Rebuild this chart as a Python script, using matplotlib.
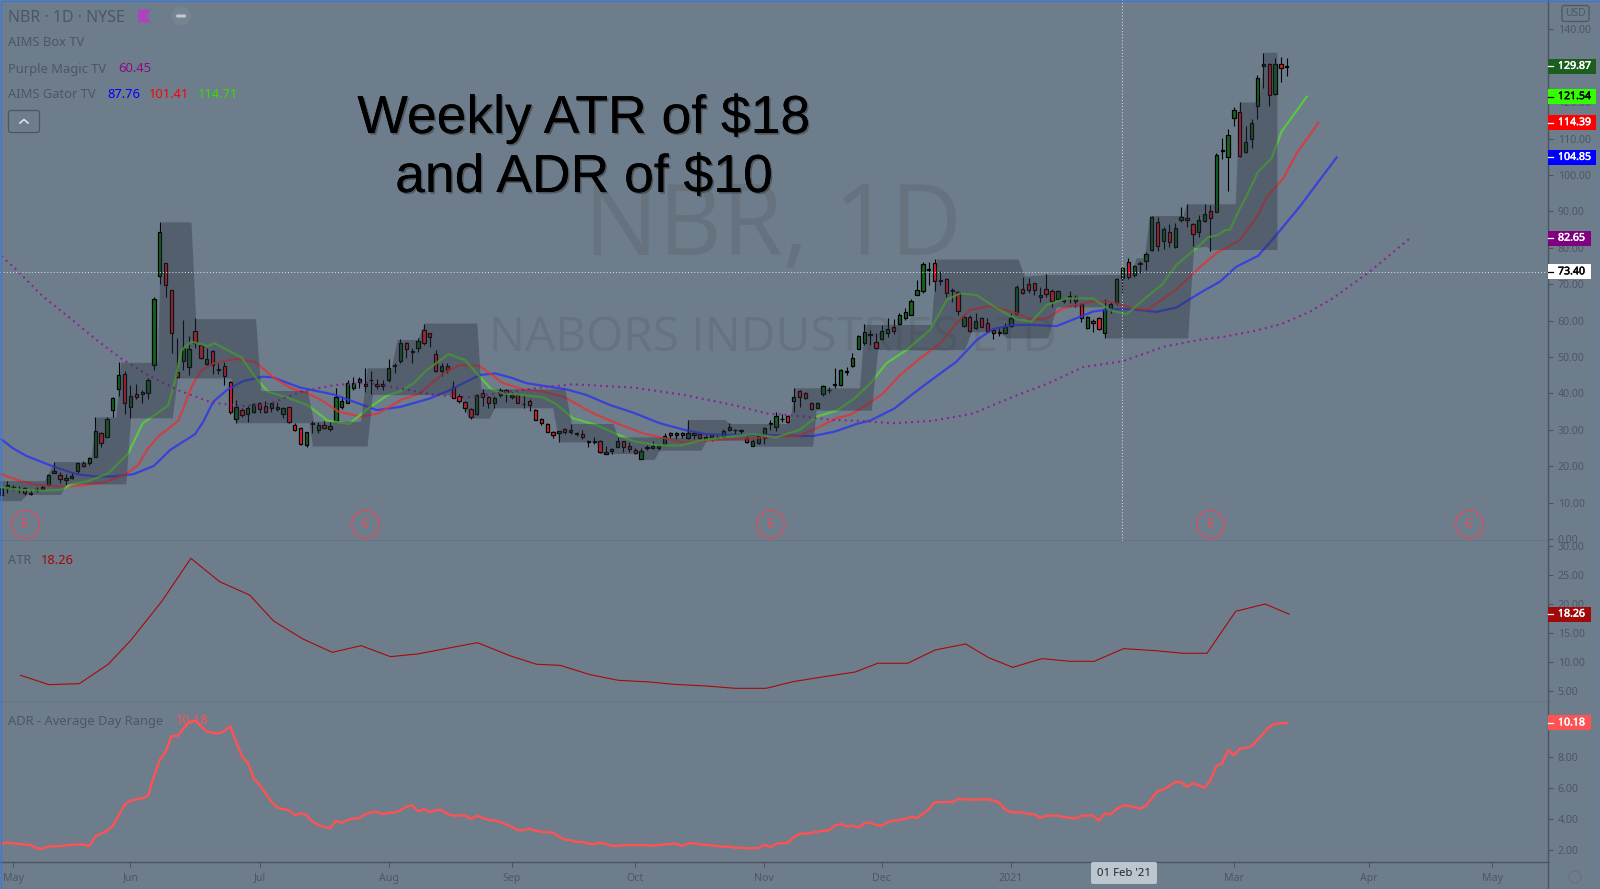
"""NBR daily chart with gator lines, weekly box, ATR and ADR panels."""
import matplotlib as mpl
import matplotlib.pyplot as plt
import matplotlib.patheffects as pe
from matplotlib.patches import Circle, FancyBboxPatch, Polygon, Rectangle
from matplotlib.ticker import FixedLocator, FuncFormatter

mpl.rcParams['font.family'] = ['Noto Sans', 'DejaVu Sans']

# Daily candles, one value per trading day.
opens = [12.1, 13.9, 14.0, 13.6, 13.9, 12.4, 13.4, 13.7, 14.7, 18.2,
         17.5, 16.1, 16.7, 18.8, 20.8, 20.8, 22.6, 29.0, 28.1, 35.4,
         41.3, 45.2, 36.4, 39.8, 39.7, 40.0, 47.9, 72.3, 75.7, 68.3,
         46.0, 49.0, 47.3, 57.2, 53.3, 48.2, 51.7, 46.4, 47.6, 43.1,
         32.9, 35.4, 34.4, 35.0, 37.5, 36.5, 36.0, 35.7, 34.3, 36.2,
         31.4, 30.5, 25.8, 31.7, 30.0, 31.2, 30.3, 32.5, 36.4, 37.5,
         41.6, 43.0, 42.6, 43.6, 42.5, 42.5, 43.6, 47.6, 49.0, 53.8,
         51.3, 52.5, 57.5, 56.5, 50.7, 46.2, 47.5, 41.8, 39.4, 37.7,
         35.6, 34.3, 40.1, 38.9, 37.5, 39.5, 40.8, 39.1, 39.5, 37.0,
         37.9, 35.4, 33.1, 31.7, 29.5, 29.1, 30.1, 29.5, 28.9, 28.9,
         26.7, 26.7, 26.8, 23.4, 24.3, 25.4, 26.8, 25.5, 24.5, 22.1,
         25.1, 25.1, 25.1, 26.2, 29.2, 28.6, 29.2, 27.8, 28.5, 28.9,
         27.2, 27.7, 27.7, 27.9, 30.0, 29.9, 29.7, 27.7, 25.6, 26.5,
         27.8, 31.5, 30.7, 33.0, 33.7, 38.0, 40.6, 40.0, 37.5, 36.1,
         39.7, 40.8, 42.3, 42.3, 45.8, 47.5, 52.3, 53.8, 56.0, 54.2,
         54.9, 56.5, 58.2, 59.2, 60.8, 61.6, 67.1, 68.0, 73.8, 75.9,
         70.9, 71.3, 68.1, 67.8, 58.6, 61.0, 57.9, 60.6, 59.4, 57.4,
         56.6, 56.5, 58.5, 61.7, 68.6, 70.0, 70.2, 66.6, 68.6, 68.1,
         66.0, 65.8, 66.1, 66.6, 64.5, 58.1, 59.8, 60.6, 56.5, 63.3,
         64.7, 71.8, 76.1, 72.6, 75.6, 76.3, 79.4, 87.0, 82.0, 84.3,
         80.3, 87.6, 88.1, 86.5, 84.3, 87.3, 90.0, 89.8, 106.5, 105.0,
         115.7, 117.2, 106.2, 109.8, 118.9, 130.0, 130.4, 122.3, 130.4, 129.6]
highs = [14.4, 15.8, 14.8, 14.6, 14.4, 13.6, 14.2, 14.8, 17.9, 21.1,
         18.5, 17.9, 18.4, 21.1, 21.5, 22.6, 33.4, 29.5, 33.4, 39.1,
         48.5, 46.2, 42.3, 42.5, 40.9, 44.1, 66.6, 87.0, 75.9, 68.4,
         55.1, 60.2, 55.8, 60.6, 53.6, 52.4, 51.9, 48.4, 48.5, 43.4,
         38.2, 35.9, 36.5, 37.3, 37.7, 38.0, 37.5, 37.7, 36.4, 36.4,
         31.8, 30.9, 29.5, 32.5, 32.2, 32.5, 32.2, 41.4, 39.3, 43.7,
         44.6, 44.6, 46.9, 46.2, 44.0, 43.7, 49.4, 48.3, 54.9, 54.2,
         52.4, 55.1, 59.2, 56.7, 51.9, 48.3, 48.3, 43.4, 39.8, 38.0,
         35.9, 39.7, 41.2, 39.3, 39.3, 41.4, 41.1, 40.5, 40.0, 39.6,
         38.4, 35.6, 33.3, 31.8, 29.7, 29.8, 30.4, 31.5, 29.5, 29.9,
         27.2, 27.9, 27.2, 25.5, 25.1, 28.1, 27.0, 26.6, 24.9, 24.9,
         25.8, 26.9, 26.1, 29.0, 29.5, 29.5, 29.5, 32.7, 29.5, 29.2,
         28.6, 28.8, 28.6, 30.2, 31.8, 30.3, 30.3, 28.4, 27.5, 28.7,
         30.7, 32.7, 35.0, 34.3, 34.1, 41.4, 40.9, 40.5, 37.7, 37.7,
         42.3, 41.7, 47.1, 46.6, 47.3, 51.0, 56.0, 59.0, 57.4, 56.5,
         58.8, 60.6, 60.4, 62.0, 63.4, 65.8, 71.2, 76.2, 76.0, 76.8,
         73.7, 71.6, 68.9, 68.0, 61.5, 61.5, 62.0, 60.9, 60.8, 57.9,
         57.9, 59.4, 62.0, 69.8, 71.9, 71.6, 70.4, 69.3, 72.8, 68.6,
         68.4, 66.3, 68.0, 67.0, 64.7, 61.3, 60.4, 61.1, 65.8, 65.2,
         71.8, 74.6, 77.3, 75.3, 76.5, 78.9, 88.7, 88.6, 85.6, 86.5,
         86.7, 91.1, 91.9, 86.9, 89.0, 92.0, 91.8, 106.0, 110.2, 112.6,
         118.8, 120.0, 113.5, 115.3, 127.4, 133.6, 130.7, 132.1, 132.3, 132.1]
lows = [11.8, 12.5, 13.5, 12.7, 12.1, 12.1, 13.0, 13.5, 14.6, 18.0,
        15.5, 14.8, 16.4, 18.0, 19.7, 20.3, 22.6, 25.4, 27.9, 33.6,
        39.3, 34.3, 33.2, 38.5, 37.5, 38.4, 46.4, 70.1, 66.6, 51.0,
        44.1, 46.4, 45.1, 52.6, 49.4, 47.8, 45.3, 45.3, 42.3, 34.3,
        31.8, 33.6, 32.2, 34.7, 34.5, 34.5, 35.0, 35.3, 33.2, 32.0,
        29.8, 25.8, 25.4, 29.0, 29.0, 30.1, 29.6, 32.2, 35.6, 37.5,
        40.9, 41.4, 40.4, 39.7, 41.3, 40.8, 43.2, 45.5, 48.3, 49.6,
        48.3, 51.5, 53.3, 52.8, 46.0, 44.9, 45.7, 38.6, 37.5, 35.0,
        33.1, 34.1, 36.5, 36.0, 35.9, 39.1, 37.7, 38.4, 37.3, 36.1,
        35.3, 32.7, 31.3, 29.3, 27.8, 26.6, 28.8, 28.8, 28.4, 27.4,
        25.4, 26.1, 23.5, 23.3, 23.4, 25.2, 24.0, 24.0, 23.3, 21.9,
        24.5, 24.7, 24.5, 26.0, 27.7, 27.4, 27.7, 27.4, 27.4, 27.6,
        26.9, 27.0, 27.4, 27.7, 29.7, 28.8, 28.8, 26.3, 25.5, 26.1,
        26.0, 29.9, 29.8, 32.2, 32.0, 35.0, 36.4, 38.4, 35.4, 35.9,
        39.4, 40.0, 41.4, 41.9, 45.1, 47.3, 52.1, 53.3, 53.3, 52.1,
        54.7, 55.6, 56.3, 58.8, 60.2, 61.5, 66.9, 67.7, 69.8, 68.2,
        69.8, 66.6, 65.2, 61.5, 58.3, 57.0, 57.6, 58.2, 56.9, 54.9,
        55.8, 56.3, 58.2, 61.5, 67.3, 67.5, 67.0, 65.2, 66.6, 63.6,
        65.7, 64.7, 64.9, 63.8, 59.7, 57.8, 57.0, 57.4, 55.1, 62.0,
        64.3, 67.5, 71.3, 71.9, 73.0, 73.9, 79.1, 79.2, 79.6, 80.1,
        80.0, 87.2, 85.8, 80.6, 82.9, 87.1, 79.2, 89.7, 104.5, 95.7,
        113.5, 104.9, 106.0, 107.3, 115.3, 124.0, 119.0, 122.0, 125.5, 127.2]
closes = [13.9, 14.8, 14.4, 13.8, 12.7, 12.7, 13.6, 14.3, 17.6, 18.7,
          16.6, 16.7, 17.2, 20.8, 20.1, 22.3, 29.6, 26.5, 33.0, 38.7,
          45.1, 37.3, 39.2, 39.1, 40.4, 43.7, 65.8, 84.3, 69.8, 56.5,
          44.6, 52.4, 52.1, 53.8, 49.6, 49.4, 47.8, 46.7, 44.9, 34.8,
          36.4, 34.1, 36.1, 37.1, 35.6, 34.9, 37.4, 36.2, 35.9, 32.1,
          30.0, 26.0, 29.3, 32.0, 31.2, 30.5, 31.1, 39.1, 38.0, 42.9,
          42.8, 44.0, 41.9, 43.8, 42.0, 42.0, 46.9, 47.8, 53.9, 52.1,
          51.7, 54.4, 53.9, 55.4, 46.2, 47.4, 46.5, 38.8, 38.0, 36.1,
          33.6, 39.6, 38.9, 37.3, 38.8, 41.0, 40.2, 39.5, 37.5, 37.2,
          36.9, 32.8, 31.8, 29.5, 28.5, 29.6, 29.4, 29.9, 29.2, 28.1,
          26.9, 27.0, 23.8, 23.8, 24.7, 26.8, 25.4, 24.6, 23.5, 24.2,
          25.4, 25.6, 25.6, 28.4, 28.5, 29.1, 28.5, 29.1, 29.1, 27.8,
          28.1, 28.6, 28.1, 29.7, 30.8, 30.0, 29.9, 26.6, 26.9, 28.4,
          30.4, 31.9, 33.8, 33.1, 32.2, 39.0, 39.1, 38.6, 35.6, 37.5,
          41.9, 41.0, 42.7, 46.3, 46.1, 49.7, 55.7, 56.9, 56.2, 52.6,
          57.1, 57.6, 57.2, 61.5, 62.3, 65.5, 68.4, 75.5, 74.3, 70.8,
          71.2, 67.5, 68.4, 62.6, 60.9, 57.2, 60.0, 58.3, 57.1, 56.5,
          56.8, 58.3, 60.8, 69.1, 67.7, 68.3, 68.5, 66.9, 67.3, 65.5,
          68.0, 65.4, 66.7, 65.5, 60.8, 60.9, 59.3, 57.6, 63.1, 64.6,
          71.4, 74.4, 72.1, 74.9, 75.9, 78.3, 88.5, 80.4, 85.3, 81.7,
          85.4, 88.6, 87.6, 83.7, 87.6, 89.3, 88.3, 105.5, 106.8, 110.9,
          117.8, 105.1, 109.1, 114.2, 126.7, 130.4, 122.1, 130.4, 129.5, 129.87]

# Gator lines and the purple dotted average, sampled at bar numbers.
blue_x = [0, 2, 4.3, 8.9, 12.8, 16, 19, 22.5, 26, 28.8, 33, 34.4, 36.1, 38.4, 41.2, 44.6, 46.3, 50.9, 56.6, 61.1, 64, 68,
          73, 76.4, 81.5, 84.1, 86.7, 89.5, 96.3, 99.7, 103.7, 107.7, 112.2, 116.8, 120.2, 124.7, 130.4, 136,
          138.3, 142, 145.7, 148, 152.2, 155.4, 158.8, 162.7, 166.2, 169, 172.4, 175.8, 179.8, 182.6, 186, 188.9, 192.8, 196.8, 200.2, 204.2,
          207.6, 210.4, 214.1, 217, 221.2, 227.5]
blue_y = [27.4, 24.9, 22.8, 19.9, 17.8, 17.2, 17.2, 17.8, 20.1, 24.5, 28.8, 32.2, 37.7, 40.9, 43.4, 44.6, 44.4, 41.6, 39.7, 37.1, 35.4, 36.3,
          38.6, 40.9, 45.05, 45.5, 44.4, 42.8, 41.1, 39.55, 36.8, 34.7, 31.8, 29.8, 28.75, 28.6, 28.6, 28.3,
          28.3, 29.5, 31.6, 32.5, 35.9, 40, 44.1, 48.7, 54.7, 57.7, 58.8, 58.8, 58.5, 60.3, 62.5, 63.1, 63.1, 62.4, 63.6, 67.6,
          70.7, 74.8, 77.8, 83.1, 91.3, 104.85]
red_x = [0, 2.8, 6.2, 10.8, 14.2, 17.6, 21, 23.3, 25, 26.7, 30.1, 30.9, 32.4, 34.1, 36.3, 39.8, 43.2, 46.6, 49.4, 52.2, 54.5, 57.4, 61.3, 64.2, 68.1,
         71.3, 75.3, 78.1, 81.5, 85.5, 88.9, 92.3, 95.7, 100.9, 104.8, 109.4, 116.2, 121.9, 127, 136,
         139.5, 142.3, 144.6, 147.4, 150.2, 153.1, 156.5, 160, 162.7, 165, 168.4, 172.4, 175.8, 178.1, 180.9, 185.5, 188.9, 192.8, 195.2, 198, 200.2, 204.2,
         207, 211, 214.1, 215.6, 218.4, 220.7, 224.4]
red_y = [17.8, 16.2, 14.8, 14.4, 14.8, 15.6, 17.6, 20.3, 24.9, 28.1, 32.4, 35.4, 41.8, 46.4, 48.3, 49.5, 48.7, 44.1, 41.4, 40, 38.2, 35, 33.6, 34.5, 38.2,
         40, 45.5, 47.8, 47.5, 42.8, 41.1, 40.5, 39.1, 34.5, 31.8, 29, 26.5, 27.2, 27.65, 28.45,
         30.9, 33.2, 34.1, 36.8, 40, 45, 49.6, 53.8, 59.25, 62.9, 64, 62.3, 60.2, 60.6, 63.4, 65.2, 65.2, 63.4, 62.9, 66.1, 68.6, 74.7,
         78.5, 82.15, 89, 94, 99.1, 106, 114.39]
green_x = [0, 3.4, 7.4, 10.2, 11.9, 14.8, 18.2, 21.6, 24.1, 28.4, 29.5, 30.7, 32.4, 35.2, 36.3, 40.9, 43.2, 45.4, 48.3, 52.2, 55.6, 59.3, 62.5, 65.9, 68,
           70.2, 72.5, 76.2, 79, 81.5, 83.5, 85.5, 88.9, 92.3, 94.5, 97.4, 101.4, 104.8, 107.7, 111.6, 115.6, 119, 122.4, 128.1, 132, 136,
           138.9, 142.3, 145.4, 148.3, 150.8, 154.2, 158.2, 161.1, 163.3, 166.2, 169.6, 173, 175.5, 178.1, 181.5, 186, 188.9, 191.7, 195.2, 197.7, 200.2, 204.2,
           205.6, 207.3, 208.5, 209.3, 211, 212.1, 214.1, 216.4, 218.1, 222.4]
green_y = [14.2, 13.5, 13.3, 13.5, 15, 15.9, 18, 23.5, 31.8, 36.6, 42.8, 51.9, 54.2, 53, 53.8, 49.9, 44.6, 40.5, 39.1, 36.8, 32.5, 31.6, 35.9, 39.6, 40.6,
           42.75, 46.4, 50.8, 49.15, 44.6, 41.1, 40, 39.55, 38.9, 37.1, 33.15, 31.3, 28.85, 26.9, 25.8, 25.65, 27, 27.8, 28.85, 27.9, 30,
           33.6, 35.3, 38.65, 43.2, 48.3, 51.9, 57.4, 65.7, 67.5, 67, 63.4, 60.35, 59.7, 64.3, 66.1, 66.1, 62.9, 61.7, 66.6, 69.8, 75.3, 80.8,
           82.9, 83.5, 84.9, 84.9, 90.8, 94.05, 100.9, 104.6, 111.9, 121.54]
purple_x = [0, 2.3, 7.1, 11.4, 16.2, 20.4, 25, 30.1, 35.8, 40.9, 46, 51.1, 56.8, 62.5, 68,
            73.6, 79.3, 84.4, 91.8, 97.4, 107.7, 116.2, 124.7, 130.4, 136,
            141.7, 145.7, 152, 158.8, 165.6, 172.4, 178.1, 184.3, 191.2, 198, 204,
            208, 213, 218, 223, 227, 233, 240]
purple_y = [77.7, 74.4, 66.6, 61.1, 54.7, 49.6, 45, 40.9, 37.5, 36.5, 37.3, 40.5, 42.3, 42.9, 41.4,
            39.6, 38.9, 40, 41.6, 42.5, 41.6, 39.6, 36.8, 34.5, 33.8,
            32.7, 32.5, 31.8, 32.5, 34.5, 39.1, 42.6, 47.2, 48.9, 52.8, 54.7,
            55.5, 57, 59, 62.5, 66.3, 73.3, 82.65]

# Outline of the weekly box, upper and lower edge.
box_top_x = [-1, 7.4, 9.1, 15.3, 16.2, 19.6, 20.4, 26.7, 27.3, 32.4, 33.2, 43.4, 44.3, 52.2, 53.3, 61.3, 62.4, 66.5, 67.5, 71,
             72.2, 81.1, 81.8, 96.1, 97.2, 104.3, 105.1, 116.7, 117, 123.3, 124.1, 134.4, 135.2, 146.3, 147.1, 158.5, 159.4,
             173.3, 174.4, 178.1, 190.9, 192.8, 193.4, 194.8, 195.7, 201.4, 202, 210.3, 211, 214.4, 215.2, 217.4]
box_top_y = [15.9, 15.9, 21.1, 21.1, 33.4, 33.4, 48.4, 48.4, 87, 87, 60.4, 60.4, 40.66, 40.66, 32.2, 32.2, 46.9, 46.9, 54.66, 54.66,
             59.2, 59.2, 41.1, 41.1, 31.6, 31.6, 27.9, 27.9, 32.7, 32.7, 31.6, 31.6, 41.4, 41.4, 58.8, 58.8, 76.8,
             76.8, 72.1, 72.5, 72.5, 73.5, 77.1, 77.1, 88.74, 88.74, 91.95, 91.95, 119.9, 119.9, 133.6, 133.6]
box_bot_x = [-1, 3.4, 4.4, 10.2, 11.1, 21.3, 22.1, 29.2, 30.1, 39.2, 40, 52.5, 53.1, 62.4, 63.3, 78.4, 79.6, 83.2, 84.1, 94,
             95.1, 101.4, 102.3, 108.8, 109.4, 111.3, 112.2, 119.3, 120.2, 127.2, 128, 138.3, 138.9, 148.3, 149.4, 164.2, 165.3,
             170.1, 171.3, 178.4, 179.8, 188, 188.3, 202.2, 203.2, 205.3, 206.2, 217.4]
box_bot_y = [10.4, 10.4, 12.1, 12.1, 15, 15, 33.15, 33.15, 44.1, 44.1, 31.8, 31.8, 25.4, 25.4, 39.55, 39.55, 33.15, 33, 35.9, 35.9,
             26.55, 26.55, 23.35, 23.35, 21.7, 21.7, 24.25, 24.25, 27, 27, 25.35, 25.35, 35.25, 35.25, 51.9, 51.9, 56.8,
             56.8, 55.1, 55.1, 63.65, 63.65, 55.1, 55.1, 79.85, 80.3, 79.4, 79.4]

# Lower panels.
atr_x = [3.3, 8.1, 13.3, 18.2, 22.1, 27.3, 32.3, 37.2, 42.3, 46.4, 51.4, 56.4, 61.3, 66.3, 70.9, 81.1, 86.6, 91.2, 95.2, 100.3, 105.1, 110.5, 114.5,
         120.1, 125, 130.3, 134.9, 139.5, 145.5, 149.3, 154.4, 159.1, 164.3, 168.2, 172.3, 177.3, 182.1, 186.2, 191.2, 196.6, 201.4, 205.4, 210.3, 215.3, 219.4]
atr_y = [7.74, 6.14, 6.31, 9.63, 13.81, 20.4, 27.84, 23.83, 21.54, 17.07, 13.98, 11.69, 12.84, 10.95, 11.41, 13.36, 11.13, 9.64, 9.46, 7.86, 6.89, 6.6, 6.2,
         5.91, 5.51, 5.51, 6.66, 7.4, 8.32, 9.81, 9.81, 12.1, 13.13, 10.78, 9.12, 10.61, 10.15, 10.15, 12.33, 11.98, 11.53, 11.53, 18.74, 20, 18.26]
adr_x = [0, 1, 3, 5, 6, 7, 8, 10, 13, 14, 15, 16, 18, 19, 21, 22, 24, 25, 26, 27, 28, 29, 30, 31, 32, 33, 34, 35, 37, 38, 39, 41, 42, 43, 44, 46, 47, 49, 50, 51, 52, 53, 54, 56, 57, 58, 59, 60, 61, 62, 63, 64, 65, 66, 67,
         68, 69, 70, 71, 72, 73, 74, 75, 76, 77, 79, 80, 81, 82, 83, 84, 85, 86, 87, 88, 89, 90, 91, 92, 94, 95, 96, 97, 98, 99, 100, 101, 102, 103, 104, 105, 106, 110, 111, 113, 115, 116, 117, 118, 119, 121, 123, 124, 125, 126, 127, 129, 130, 131, 132, 134, 135, 136, 137, 139,
         141, 142, 143, 144, 145, 146, 147, 148, 149, 150, 151, 152, 154, 155, 156, 158, 159, 162, 163, 165, 168, 169, 170, 171, 172, 174, 175, 176, 177, 178, 180, 182, 183, 184, 186, 187, 188, 189, 190, 191, 192, 194, 195, 197, 198, 200, 201, 202, 203, 205, 206, 207, 208, 209, 210, 211, 212, 213, 215, 216, 217, 219]
adr_y = [2.37, 2.46, 2.37, 2.31, 2.09, 2.07, 2.2, 2.24, 2.35, 2.33, 2.24, 2.85, 3.23, 3.53, 4.89, 5.17, 5.32, 5.47, 6.72, 7.79, 8.33, 9.34, 9.34, 9.79, 10.22, 10.33, 9.98, 9.62, 9.49, 9.66, 9.96, 8.01, 7.62, 6.61, 6.18, 5.1, 4.72, 4.54, 4.24, 4.35, 4.24, 3.81, 3.6, 3.38, 3.86, 3.73, 3.92, 4.01, 4.05, 4.29, 4.42, 4.44, 4.29, 4.39, 4.39,
         4.56, 4.78, 4.86, 4.47, 4.63, 4.43, 4.56, 4.58, 4.3, 4.2, 4.22, 3.98, 4.2, 4.05, 3.92, 3.9, 3.79, 3.62, 3.49, 3.25, 3.27, 3.36, 3.23, 3.16, 3.1, 2.84, 2.65, 2.63, 2.5, 2.5, 2.39, 2.37, 2.45, 2.37, 2.26, 2.24, 2.3, 2.3, 2.26, 2.35, 2.39, 2.24, 2.41, 2.43, 2.35, 2.28, 2.2, 2.2, 2.13, 2.13, 2.09, 2.11, 2.32, 2.17, 2.39, 2.45, 2.82, 3.03, 3.03, 3.16,
         3.27, 3.55, 3.66, 3.51, 3.55, 3.44, 3.7, 3.77, 3.59, 3.55, 3.79, 3.87, 3.98, 4.13, 4.05, 4.6, 5.06, 5.08, 5.27, 5.23, 5.25, 5.18, 5.03, 4.6, 4.43, 4.41, 4.3, 4.28, 4.05, 4.2, 4.2, 4.05, 4.02, 4.2, 4.2, 3.87, 4.35, 4.28, 4.63, 4.84, 4.84, 4.65, 4.84, 5.79, 5.89, 6.37, 6.37, 6.05, 6.3, 6, 6.5, 7.38, 7.57, 8.43, 8.09, 8.52, 8.56, 8.69, 9.49, 9.92, 10.13, 10.18]

earnings_bars = [4, 62, 131, 206, 250]
month_bars = [2, 22, 44, 66, 87, 108, 130, 150, 172, 191, 210, 233, 254]
# The crosshair date tag covers the February label.
month_labels = ['May', 'Jun', 'Jul', 'Aug', 'Sep', 'Oct', 'Nov', 'Dec', '2021', '', 'Mar', 'Apr', 'May']
# The 129.87 tag covers the 130 label, so that tick has none.
price_ticks = [0, 10, 20, 30, 40, 50, 60, 70, 80, 90, 100, 110, 120, 130, 140]
atr_ticks = [5, 10, 15, 20, 25, 30]
adr_ticks = [2, 4, 6, 8]
cross_bar = 191
cross_price = 73.40

BG = '#6e7d8c'
GREY = '#4d5663'
LINE = '#4c5461'
W, H = 1600, 889
AX_RIGHT = 1548

fig = plt.figure(figsize=(W / 100, H / 100), dpi=100, facecolor=BG)


def panel(top, bottom):
    ax = fig.add_axes([0, 1 - bottom / H, AX_RIGHT / W, (bottom - top) / H], facecolor=BG)
    ax.set_xlim(-0.22, 263.5)
    ax.spines[['top', 'left']].set_visible(False)
    ax.spines[['right', 'bottom']].set_color(LINE)
    ax.spines[['right', 'bottom']].set_linewidth(1.0)
    ax.yaxis.tick_right()
    ax.tick_params(axis='y', length=3.6, width=0.8, color=LINE, labelcolor=GREY, labelsize=7.6, pad=3.4)
    ax.yaxis.set_major_formatter(FuncFormatter(lambda v, _: '' if v == 130 else '%.2f' % v))
    ax.set_xticks([])
    return ax


ax1 = panel(0, 541)
ax2 = panel(541, 702)
ax3 = panel(702, 862)
ax1.set_ylim(-0.55, 148.08)
ax2.set_ylim(3.16, 30.82)
ax3.set_ylim(1.21, 11.53)
ax1.yaxis.set_major_locator(FixedLocator(price_ticks))
ax2.yaxis.set_major_locator(FixedLocator(atr_ticks))
ax3.yaxis.set_major_locator(FixedLocator(adr_ticks))
ax3.set_xticks(month_bars)
ax3.set_xticklabels(month_labels)
ax3.tick_params(axis='x', length=3.6, width=0.8, color=LINE, labelcolor=GREY, labelsize=7.6, pad=4)
ax3.get_xticklabels()[8].set_fontweight('bold')

# Watermarks
ax1.text(131.5, 85, 'NBR, 1D', fontsize=71, color='#66737f', ha='center', va='center', zorder=0, family='Open Sans')
ax1.text(131.5, 55.2, 'NABORS INDUSTRIES LTD', fontsize=34.5, color='#66737f', ha='center', va='center', zorder=0, family='Open Sans')

# Candles
bars = list(range(len(closes)))
ax1.vlines(bars, lows, highs, color='black', linewidth=0.8, zorder=2)
ax1.bar(bars, [abs(c - o) for o, c in zip(opens, closes)], bottom=[min(o, c) for o, c in zip(opens, closes)],
        width=0.56, color=['#12661f' if c >= o else '#ea2027' for o, c in zip(opens, closes)],
        edgecolor='black', linewidth=0.9, zorder=2)

# Moving averages
ax1.plot(blue_x, blue_y, color='#2f38e6', lw=1.6, alpha=0.85, zorder=3)
ax1.plot(red_x, red_y, color='#e23434', lw=1.6, alpha=0.8, zorder=3)
ax1.plot(green_x, green_y, color='#56d82e', lw=1.6, alpha=0.8, zorder=3)
ax1.plot(purple_x, purple_y, color='#8b1f96', lw=1.5, linestyle=(0, (0.9, 2.0)), zorder=3)

# The weekly box sits over the candles and dims them.
ax1.fill(box_top_x + box_bot_x[::-1], box_top_y + box_bot_y[::-1], color='#2d3241', alpha=0.4, lw=0, zorder=5)

# Crosshair
ax1.axhline(cross_price, color='#e8ecf0', lw=0.75, alpha=0.85, linestyle=(0, (1, 2)), zorder=6)
ax1.axvline(cross_bar, color='#e8ecf0', lw=0.75, alpha=0.85, linestyle=(0, (1, 2)), zorder=6)

# Earnings markers
ax1.plot(earnings_bars, [4.1] * len(earnings_bars), 'o', ms=20, mfc='none', mec='#dd4a5c', mew=0.9, zorder=6)
for b in earnings_bars:
    ax1.text(b, 4.1, 'E', color='#d9525f', fontsize=10, ha='center', va='center', zorder=6)

ax2.plot(atr_x, atr_y, color='#a60a0a', lw=0.8)
ax3.plot(adr_x, adr_y, color='#ff5252', lw=1.7)

# Everything that sits over the chart, in pixel coordinates.
ui = fig.add_axes([0, 0, 1, 1])
ui.set_xlim(0, W)
ui.set_ylim(H, 0)
ui.axis('off')


def label(x, y, s, color=GREY, size=9.3, **kw):
    ui.text(x, y + 1, s, color=color, fontsize=size, va='center', **kw)


label(8, 17, 'NBR · 1D · NYSE', size=11.5)
label(8, 42, 'AIMS Box TV')
label(8, 68, 'Purple Magic TV')
label(118, 68, '60.45', color='#8b0a8b')
label(8, 94, 'AIMS Gator TV')
label(107, 94, '87.76', color='#0000ff')
label(149, 94, '101.41', color='#ff0000')
label(198, 94, '114.71', color='#33e000')
label(8, 559, 'ATR')
label(41, 559, '18.26', color='#a00a0a')
label(8, 720, 'ADR - Average Day Range')
label(176, 720, '10.18', color='#ff5252')

# Flag, hide button and collapse button
ui.add_patch(Polygon([(138, 9.5), (151, 9.5), (147, 16), (151, 22.5), (138, 22.5)], color='#aa45bb', lw=0))
ui.add_patch(Circle((181, 16), 9.5, color='#78868f', lw=0, alpha=0.8))
ui.add_patch(FancyBboxPatch((176, 14.5), 10, 3, boxstyle='round,pad=0,rounding_size=1.5', color='#c3ccd4', lw=0))
ui.add_patch(FancyBboxPatch((8.5, 110.5), 31, 22, boxstyle='round,pad=0,rounding_size=2.5', fc='none', ec=GREY, lw=0.9))
ui.plot([20, 24, 28], [123, 119.5, 123], color='#dde2e7', lw=1.2)

# USD box and the settings circle
ui.add_patch(FancyBboxPatch((1562, 5.5), 27, 16, boxstyle='round,pad=0,rounding_size=2.5', fc='none', ec=GREY, lw=0.9))
ui.text(1575.5, 13.5, 'USD', color=GREY, fontsize=7.4, ha='center', va='center')
ui.add_patch(Circle((1575, 877), 6, fc='none', ec='#66737f', lw=0.9))

# Right axis line reaches the bottom edge below the date axis.
ui.plot([AX_RIGHT, AX_RIGHT], [862, H], color=LINE, lw=1.0)

# Value tags on the price axes
tags = [(ax1, 129.87, '#1b5e20', 'white', 48), (ax1, 121.54, '#33ff00', 'black', 48), (ax1, 114.39, '#ff0000', 'white', 48),
        (ax1, 104.85, '#0000ff', 'white', 48), (ax1, 82.65, '#800080', 'white', 43), (ax1, 73.40, '#ffffff', 'black', 43),
        (ax2, 18.26, '#a00a0a', 'white', 43), (ax3, 10.18, '#ff5252', 'white', 43)]
for ax, value, fill, txt, width in tags:
    y = ui.transData.inverted().transform(ax.transData.transform((0, value)))[1]
    ui.add_patch(Rectangle((AX_RIGHT, y - 7.5), width, 15, color=fill, lw=0))
    ui.plot([AX_RIGHT, AX_RIGHT + 5], [y, y], color=txt, lw=0.9)
    tag_text = ui.text(1558, y, '%.2f' % value, color=txt, fontsize=7.6, va='center')
    tag_text.set_path_effects([pe.withStroke(linewidth=0.35, foreground=txt)])

# Crosshair date tag
ui.add_patch(FancyBboxPatch((1091, 862), 66, 22, boxstyle='round,pad=0,rounding_size=2', color='#bcc6cf', lw=0))
ui.text(1124, 873, "01 Feb '21", color='#20252b', fontsize=8.2, ha='center', va='center')

# Headline typed on the chart
headline = ui.text(584, 133, 'Weekly ATR of $18', color='black', fontsize=38.5, ha='center', va='baseline', family='Liberation Sans')
headline2 = ui.text(584, 192, 'and ADR of $10', color='black', fontsize=38.5, ha='center', va='baseline', family='Liberation Sans')
for t in (headline, headline2):
    t.set_path_effects([pe.withSimplePatchShadow(offset=(1.2, -1.2), shadow_rgbFace='#222222', alpha=0.4), pe.Normal()])

# Thin blue frame round the whole picture
ui.add_patch(Rectangle((0.5, 0.5), W - 1, H - 1, fc='none', ec='#3c78d8', lw=1.0))

fig.savefig('out.png', dpi=100, facecolor=BG)
